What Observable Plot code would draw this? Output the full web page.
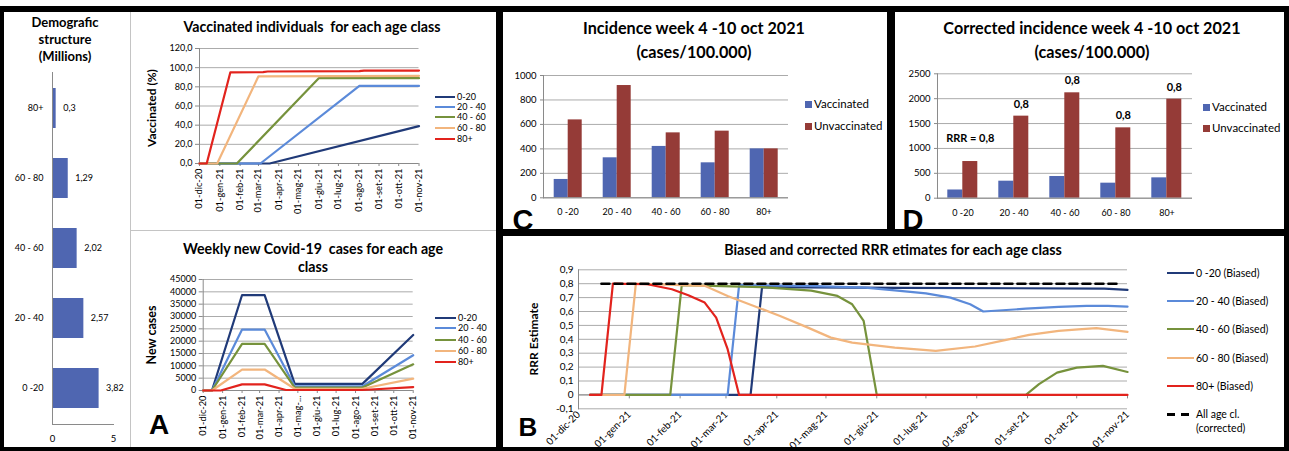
<!DOCTYPE html>
<html><head><meta charset="utf-8">
<script src="https://cdn.jsdelivr.net/npm/d3@7"></script>
<script src="https://cdn.jsdelivr.net/npm/@observablehq/plot@0.6"></script>
<style>
body{margin:0;background:#fff;}
#root{position:relative;width:1289px;height:451px;overflow:hidden;background:#fff;font-family:Lato,"Open Sans",sans-serif;color:#000}
#root svg{display:block;overflow:visible}
</style></head>
<body><div id="root"></div>
<script>
// ---------------- DATA ----------------
const ageClasses = ["0 -20", "20 - 40", "40 - 60", "60 - 80", "80+"];
const legendLabelsA = ["0-20", "20 - 40", "40 - 60", "60 - 80", "80+"];
const legendLabelsB = ["0 -20 (Biased)", "20 - 40 (Biased)", "40 - 60 (Biased)", "60 - 80 (Biased)", "80+ (Biased)"];
const correctedLabel = ["All age cl.", "(corrected)"];
const barGroups = ["Vaccinated", "Unvaccinated"];

// Demographic structure (millions)
const population = [3.82, 2.57, 2.02, 1.29, 0.3];
const popTicks = [0, 5];

// Vaccinated (%) — [date, value] vertices
const vac0_20 = [["2020-12-01", 0], ["2021-03-18", 0], ["2021-11-01", 39]];
const vac20_40 = [["2020-12-01", 0], ["2021-03-04", 0], ["2021-08-02", 81], ["2021-11-01", 81]];
const vac40_60 = [["2020-12-01", 0], ["2021-01-27", 0], ["2021-06-01", 89], ["2021-11-01", 89]];
const vac60_80 = [["2020-12-01", 0], ["2020-12-28", 0], ["2021-03-01", 91], ["2021-11-01", 91.5]];
const vac80p = [["2020-12-01", 0], ["2020-12-12", 0], ["2021-01-17", 95], ["2021-03-08", 95.3], ["2021-03-15", 96], ["2021-08-02", 96.3], ["2021-08-09", 97], ["2021-11-01", 97]];
const vacTicks = [0, 20, 40, 60, 80, 100, 120];

// Weekly new cases — [date, value] vertices
const cases0_20 = [["2020-12-01", 0], ["2020-12-15", 0], ["2021-02-01", 38700], ["2021-03-09", 38700], ["2021-04-26", 2700], ["2021-08-12", 2700], ["2021-11-01", 22500]];
const cases20_40 = [["2020-12-01", 0], ["2020-12-15", 0], ["2021-02-01", 24700], ["2021-03-09", 24700], ["2021-04-26", 1700], ["2021-08-12", 1700], ["2021-11-01", 14300]];
const cases40_60 = [["2020-12-01", 0], ["2020-12-15", 0], ["2021-02-01", 18900], ["2021-03-09", 18900], ["2021-04-26", 1200], ["2021-08-12", 1200], ["2021-11-01", 10600]];
const cases60_80 = [["2020-12-01", 0], ["2020-12-15", 0], ["2021-02-01", 8500], ["2021-03-09", 8500], ["2021-04-26", 700], ["2021-08-12", 700], ["2021-11-01", 4800]];
const cases80p = [["2020-12-01", 0], ["2020-12-29", 0], ["2021-02-01", 2500], ["2021-03-09", 2500], ["2021-04-12", 200], ["2021-08-12", 200], ["2021-11-01", 1400]];
const casesTicks = [0, 5000, 10000, 15000, 20000, 25000, 30000, 35000, 40000, 45000];

// Month tick dates and labels
const monthTickDates = ["2020-12-01", "2021-01-01", "2021-02-01", "2021-03-01", "2021-04-01", "2021-05-01", "2021-06-01", "2021-07-01", "2021-08-01", "2021-09-01", "2021-10-01", "2021-11-01"];
const monthTickLabels = ["01-dic-20", "01-gen-21", "01-feb-21", "01-mar-21", "01-apr-21", "01-mag-21", "01-giu-21", "01-lug-21", "01-ago-21", "01-set-21", "01-ott-21", "01-nov-21"];
const casesTickLabels = ["01-dic-20", "01-gen-21", "01-feb-21", "01-mar-21", "01-apr-21", "01-mag-...", "01-giu-21", "01-lug-21", "01-ago-21", "01-set-21", "01-ott-21", "01-nov-21"];

// Incidence week 4-10 oct 2021 (cases/100.000)
const incVacc = [150, 327, 420, 286, 400];
const incUnvacc = [637, 918, 531, 545, 400];
const incTicks = [0, 200, 400, 600, 800, 1000];

// Corrected incidence
const corrVacc = [165, 342, 436, 302, 409];
const corrUnvacc = [737, 1649, 2118, 1414, 1990];
const corrLabels = ["RRR = 0,8", "0,8", "0,8", "0,8", "0,8"];
const corrTicks = [0, 500, 1000, 1500, 2000, 2500];

// RRR estimates — [date, value] vertices
const rrr0_20 = [["2020-12-08", 0], ["2021-03-16", 0], ["2021-03-23", 0.775], ["2021-06-15", 0.77], ["2021-10-18", 0.765], ["2021-11-01", 0.755]];
const rrr20_40 = [["2020-12-08", 0], ["2021-03-02", 0], ["2021-03-09", 0.79], ["2021-04-20", 0.785], ["2021-05-25", 0.772], ["2021-06-12", 0.752], ["2021-07-01", 0.73], ["2021-07-16", 0.70], ["2021-07-28", 0.652], ["2021-08-05", 0.60], ["2021-08-31", 0.62], ["2021-09-20", 0.633], ["2021-10-07", 0.64], ["2021-10-20", 0.64], ["2021-11-01", 0.635]];
const rrr40_60 = [["2020-12-08", 0], ["2021-01-26", 0], ["2021-02-02", 0.79], ["2021-03-23", 0.775], ["2021-04-22", 0.75], ["2021-05-08", 0.712], ["2021-05-17", 0.652], ["2021-05-24", 0.532], ["2021-06-01", 0], ["2021-08-31", 0], ["2021-09-08", 0.077], ["2021-09-19", 0.16], ["2021-10-01", 0.196], ["2021-10-17", 0.209], ["2021-11-01", 0.165]];
const rrr60_80 = [["2020-12-08", 0], ["2020-12-29", 0], ["2021-01-05", 0.8], ["2021-02-16", 0.785], ["2021-03-02", 0.712], ["2021-03-18", 0.64], ["2021-04-03", 0.568], ["2021-04-20", 0.484], ["2021-05-04", 0.412], ["2021-05-17", 0.376], ["2021-06-12", 0.34], ["2021-07-07", 0.317], ["2021-07-31", 0.348], ["2021-08-19", 0.396], ["2021-09-02", 0.432], ["2021-09-20", 0.46], ["2021-10-02", 0.472], ["2021-10-13", 0.48], ["2021-11-01", 0.453]];
const rrr80p = [["2020-12-08", 0], ["2020-12-15", 0], ["2020-12-22", 0.8], ["2021-01-12", 0.796], ["2021-01-27", 0.76], ["2021-02-06", 0.717], ["2021-02-16", 0.664], ["2021-02-23", 0.556], ["2021-03-02", 0.329], ["2021-03-09", 0], ["2021-11-01", 0]];
const rrrCorrected = [["2020-12-15", 0.8], ["2021-10-26", 0.8]];
const rrrTicks = [-0.1, 0, 0.1, 0.2, 0.3, 0.4, 0.5, 0.6, 0.7, 0.8, 0.9];

// ---------------- STYLE ----------------
const FONT = "Lato, 'Open Sans', sans-serif";
const seriesColors = ["#203A78", "#5B8AD9", "#76923C", "#F2B57D", "#E2231D"];
const barBlue = "#4F66B1", barRed = "#953B37";
const gridColor = "#ababab", axisColor = "#8a8a8a";
const baseStyle = {fontFamily: FONT, fontSize: "9.5px", background: "transparent", color: "#000", overflow: "visible"};

// ---------------- HELPERS ----------------
const root = document.getElementById("root");
function addDiv(css, text) {
  const d = document.createElement("div");
  Object.assign(d.style, {position: "absolute"}, css);
  if (text != null) d.textContent = text;
  root.appendChild(d);
  return d;
}
function rect(l, t, w, h, c) { return addDiv({left: l + "px", top: t + "px", width: w + "px", height: h + "px", background: c}); }
function txt(s, x, y, o = {}) {
  const a = o.anchor || "middle";
  const tx = a === "middle" ? "-50%" : a === "end" ? "-100%" : "0";
  return addDiv({left: x + "px", top: y + "px", fontSize: (o.size || 10) + "px", fontWeight: o.weight || "normal",
    fontFamily: o.font || FONT, whiteSpace: "pre", lineHeight: (o.lh || 1.15), textAlign: o.align || "center",
    transform: `translate(${tx},-50%) rotate(${o.rotate || 0}deg)`}, s);
}
function mount(chart, l, t) { const d = addDiv({left: l + "px", top: t + "px"}); d.appendChild(chart); }
const toSeries = (list, names) => list.flatMap((s, k) => s.map(([d, v]) => ({date: new Date(d), value: v, series: names[k]})));
const monthDates = monthTickDates.map(d => new Date(d));
const monthLabelOf = new Map(monthDates.map((d, i) => [+d, monthTickLabels[i]]));
const casesLabelOf = new Map(monthDates.map((d, i) => [+d, casesTickLabels[i]]));
const comma = v => String(v).replace(".", ",");

// ---------------- DEMOGRAPHIC ----------------
const demoData = ageClasses.map((a, i) => ({age: a, value: population[i]}));
mount(Plot.plot({
  width: 124, height: 388, marginLeft: 48, marginRight: 15, marginTop: 10, marginBottom: 26,
  style: baseStyle,
  x: {domain: [0, 5]},
  y: {domain: ageClasses.slice().reverse(), paddingInner: 0.43, paddingOuter: 0.215},
  marks: [
    Plot.barX(demoData, {x: "value", y: "age", fill: barBlue}),
    Plot.text(demoData, {x: "value", y: "age", text: d => comma(d.value), dx: 7, textAnchor: "start", fontSize: 9}),
    Plot.ruleX([0], {stroke: axisColor}),
    Plot.frame({anchor: "bottom", stroke: axisColor}),
    Plot.axisY({tickSize: 0, tickPadding: 9, fontSize: 9, label: null}),
    Plot.axisX(popTicks, {tickSize: 0, tickPadding: 11, fontSize: 9.5, label: null})
  ]
}), 4, 62);

// ---------------- VACCINATED ----------------
const vacData = toSeries([vac0_20, vac20_40, vac40_60, vac60_80, vac80p], ageClasses);
mount(Plot.plot({
  width: 296, height: 180, marginLeft: 67, marginRight: 9.5, marginTop: 10, marginBottom: 55,
  style: baseStyle,
  x: {type: "utc", domain: [monthDates[0], monthDates[monthDates.length - 1]]},
  y: {domain: [0, 120]},
  color: {domain: ageClasses, range: seriesColors},
  marks: [
    Plot.gridY(vacTicks, {stroke: gridColor, strokeOpacity: 1}),
    Plot.axisY(vacTicks, {tickSize: 4, tickPadding: 3, tickFormat: d => d.toFixed(1).replace(".", ","), stroke: axisColor, fontSize: 9, label: null}),
    Plot.axisX(monthDates, {tickSize: 3, tickPadding: 2, tickRotate: -90, tickFormat: d => monthLabelOf.get(+d), stroke: axisColor, fontSize: 9.3, label: null}),
    Plot.frame({anchor: "left", stroke: axisColor}),
    Plot.ruleY([0], {stroke: axisColor}),
    Plot.line(vacData, {x: "date", y: "value", z: "series", stroke: "series", strokeWidth: 2.2})
  ]
}), 132, 38);

// ---------------- WEEKLY CASES ----------------
const casesData = toSeries([cases0_20, cases20_40, cases40_60, cases60_80, cases80p], ageClasses);
mount(Plot.plot({
  width: 296, height: 175, marginLeft: 70.7, marginRight: 15.3, marginTop: 7, marginBottom: 57,
  style: baseStyle,
  x: {type: "utc", domain: [monthDates[0], monthDates[monthDates.length - 1]]},
  y: {domain: [0, 45000]},
  color: {domain: ageClasses, range: seriesColors},
  marks: [
    Plot.gridY(casesTicks, {stroke: gridColor, strokeOpacity: 1}),
    Plot.axisY(casesTicks, {tickSize: 4, tickPadding: 3, tickFormat: d => String(d), stroke: axisColor, fontSize: 9, label: null}),
    Plot.axisX(monthDates, {tickSize: 3, tickPadding: 2, tickRotate: -90, tickFormat: d => casesLabelOf.get(+d), stroke: axisColor, fontSize: 9.3, label: null}),
    Plot.frame({anchor: "left", stroke: axisColor}),
    Plot.ruleY([0], {stroke: axisColor}),
    Plot.line(casesData, {x: "date", y: "value", z: "series", stroke: "series", strokeWidth: 2.2})
  ]
}), 132, 272);

// ---------------- INCIDENCE (C) & CORRECTED (D) ----------------
function groupedBars(vacc, unvacc, ticks, domainMax, opts) {
  const data = ageClasses.flatMap((a, i) => [{age: a, group: barGroups[0], value: vacc[i]}, {age: a, group: barGroups[1], value: unvacc[i]}]);
  return Plot.plot({
    width: opts.width, height: opts.height, marginLeft: opts.marginLeft, marginRight: opts.marginRight,
    marginTop: opts.marginTop, marginBottom: opts.marginBottom,
    style: baseStyle,
    fx: {domain: ageClasses, padding: 0},
    x: {domain: barGroups, paddingInner: 0, paddingOuter: 0.69, axis: null},
    y: {domain: [0, domainMax]},
    color: {domain: barGroups, range: [barBlue, barRed]},
    marks: [
      Plot.gridY(ticks, {stroke: gridColor, strokeOpacity: 1}),
      Plot.barY(data, {fx: "age", x: "group", y: "value", fill: "group"}),
      Plot.ruleY([0], {stroke: axisColor}),
      Plot.frame({anchor: "left", stroke: axisColor, facetAnchor: "left"}),
      Plot.axisY(ticks, {tickSize: 3, tickPadding: 4, tickFormat: d => String(d), stroke: axisColor, fontSize: 9.5, label: null}),
      Plot.axisFx({anchor: "bottom", tickSize: 0, tickPadding: 11, fontSize: 9, label: null}),
      ...(opts.extra || [])
    ]
  });
}
mount(groupedBars(incVacc, incUnvacc, incTicks, 1000,
  {width: 290, height: 160, marginLeft: 40.3, marginRight: 4.7, marginTop: 7, marginBottom: 30.7}), 503, 68);

const corrLabelData = ageClasses.map((a, i) => ({age: a, group: barGroups[1], value: corrUnvacc[i], label: corrLabels[i]}));
mount(groupedBars(corrVacc, corrUnvacc, corrTicks, 2500,
  {width: 300, height: 162, marginLeft: 41.7, marginRight: 3.3, marginTop: 7.3, marginBottom: 30.3,
   extra: [
     Plot.text(corrLabelData.slice(0, 1), {fx: "age", x: "group", y: "value", text: "label", dy: -23, fontWeight: "bold", fontSize: 11}),
     Plot.text(corrLabelData.slice(1), {fx: "age", x: "group", y: "value", text: "label", dy: -12, fontWeight: "bold", fontSize: 11})
   ]}), 895, 66);

// ---------------- RRR (B) ----------------
const rrrData = toSeries([rrr0_20, rrr20_40, rrr40_60, rrr60_80, rrr80p], ageClasses);
const corrData = rrrCorrected.map(([d, v]) => ({date: new Date(d), value: v}));
mount(Plot.plot({
  width: 660, height: 185, marginLeft: 75, marginRight: 36, marginTop: 7.3, marginBottom: 38.7,
  style: baseStyle,
  x: {type: "utc", domain: [monthDates[0], monthDates[monthDates.length - 1]]},
  y: {domain: [-0.1, 0.9]},
  color: {domain: ageClasses, range: seriesColors},
  marks: [
    Plot.gridY(rrrTicks, {stroke: gridColor, strokeOpacity: 1}),
    Plot.axisY(rrrTicks, {tickSize: 0, tickPadding: 5, tickFormat: d => d === 0 ? "0" : d.toFixed(1).replace(".", ","), fontSize: 10, label: null}),
    Plot.axisX(monthDates, {tickSize: 0, tickPadding: 4, tickRotate: -45, tickFormat: d => monthLabelOf.get(+d), fontSize: 10, label: null}),
    Plot.frame({anchor: "left", stroke: axisColor}),
    Plot.ruleY([0], {stroke: axisColor}),
    Plot.ruleX(monthDates, {x: d => d, y1: 0, y2: 0, insetBottom: -4, stroke: axisColor}),
    Plot.line(rrrData, {x: "date", y: "value", z: "series", stroke: "series", strokeWidth: 2.2}),
    Plot.line(corrData, {x: "date", y: "value", stroke: "#000", strokeWidth: 2.6, strokeDasharray: "8,5"})
  ]
}), 503, 262);

// ---------------- FRAMES ----------------
rect(130, 12, 1, 435, "#c4c4c4");
rect(130, 230, 366, 1, "#c4c4c4");
rect(0, 6, 1289, 6, "#000");
rect(0, 6, 4, 445, "#000");
rect(496, 6, 7, 445, "#000");
rect(887, 6, 8, 230, "#000");
rect(496, 229, 793, 7, "#000");
rect(1284, 6, 5, 445, "#000");
rect(0, 447, 1289, 4, "#000");

// ---------------- TITLES, LABELS ----------------
txt("Demografic\nstructure\n(Millions)", 65, 39, {size: 13, weight: "bold", lh: "17px"});
txt("Vaccinated individuals  for each age class", 312, 27, {size: 14.2, weight: "bold"});
txt("Weekly new Covid-19  cases for each age\nclass", 313, 258, {size: 14.2, weight: "bold", lh: "18px"});
txt("Incidence week 4 -10 oct 2021\n(cases/100.000)", 694, 40, {size: 16.2, weight: "bold", lh: "24px"});
txt("Corrected incidence week 4 -10 oct 2021\n(cases/100.000)", 1092, 40, {size: 16.2, weight: "bold", lh: "24px"});
txt("Biased and corrected RRR etimates for each age class", 893, 250, {size: 14.3, weight: "bold"});
txt("Vaccinated (%)", 152, 108, {size: 12, weight: "bold", rotate: -90});
txt("New cases", 152, 335, {size: 12.5, weight: "bold", rotate: -90});
txt("RRR Estimate", 534, 339, {size: 12, weight: "bold", rotate: -90});
const LETTER = "'Liberation Sans', Arial, sans-serif";
txt("A", 159, 424, {size: 28, weight: "bold", font: LETTER, lh: "21px"});
txt("C", 523, 220, {size: 29, weight: "bold", font: LETTER, lh: "22px"});
txt("D", 913, 220, {size: 29, weight: "bold", font: LETTER, lh: "22px"});
txt("B", 528, 427, {size: 26, weight: "bold", font: LETTER, lh: "19px"});

// Legends panel A
function lineLegend(x0, x1, tx, ys, labels, size) {
  labels.forEach((lab, i) => {
    rect(x0, ys[i] - 1, x1 - x0, 2, seriesColors[i]);
    txt(lab, tx, ys[i], {size, anchor: "start"});
  });
}
lineLegend(435, 455, 457, [96.7, 106.7, 117.3, 128.3, 139.3], legendLabelsA, 9);
lineLegend(435, 456, 458, [318.3, 328.3, 340, 351, 361.7], legendLabelsA, 9);
// Legend panel B
lineLegend(1167, 1194, 1196, [273.3, 300.7, 329.3, 357.7, 385.7], legendLabelsB, 10.5);
rect(1167, 413, 8, 2.5, "#000");
rect(1181, 413, 8, 2.5, "#000");
txt(correctedLabel.join("\n"), 1196, 421, {size: 10.5, anchor: "start", lh: "14px", align: "left"});
// Legends C, D
function boxLegend(sx, tx, ys, size) {
  barGroups.forEach((g, i) => {
    rect(sx, ys[i] - 3.5, 7, 7, i === 0 ? barBlue : barRed);
    txt(g, tx, ys[i], {size, anchor: "start"});
  });
}
boxLegend(805, 814, [104, 126], 11.5);
boxLegend(1203, 1212, [107, 128], 11.5);
</script>
</body></html>
